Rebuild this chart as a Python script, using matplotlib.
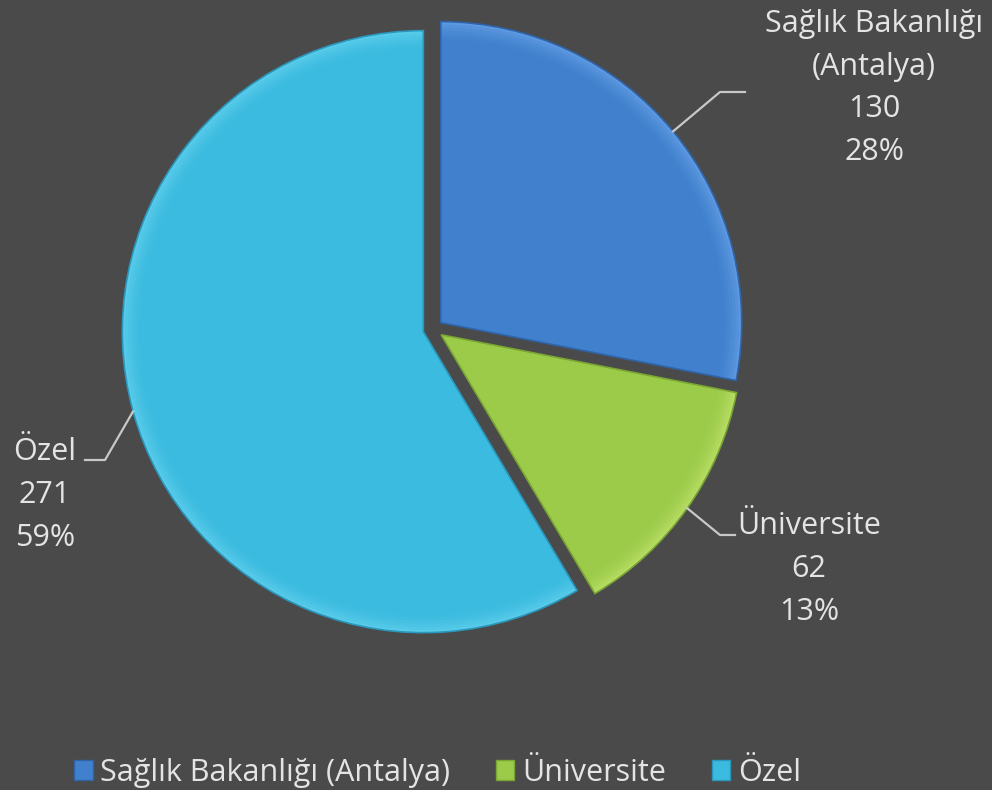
import numpy as np
import matplotlib.pyplot as plt
from matplotlib.patches import Patch, Wedge

plt.rcParams['font.family'] = ['Open Sans', 'DejaVu Sans']

labels = ['Sağlık Bakanlığı (Antalya)', 'Üniversite', 'Özel']
label_lines = ['Sağlık Bakanlığı\n(Antalya)', 'Üniversite', 'Özel']
values = [130, 62, 271]
colors = ['#4080cc', '#9ccb4a', '#3abbdf']
light = ['#72aaf0', '#c8e874', '#6ed6f2']
dark = ['#2f64a8', '#7aa634', '#2a98bc']

fig = plt.figure(figsize=(9.92, 7.9), dpi=100)
fig.patch.set_facecolor('#4a4a4a')
ax = fig.add_axes([0, 0, 1, 1])

cx, cy, r = 433, 461, 301
gap = 10
wedges, _ = ax.pie(values, colors=colors, startangle=90, counterclock=False,
                   radius=r, center=(cx, cy), explode=[gap, gap, gap],
                   wedgeprops=dict(linewidth=0), frame=True)

# soft bevel: darker outline, lighter rim
for w, lc_, dc_ in zip(wedges, light, dark):
    x0, y0 = w.center
    for k, a in enumerate([0.6, 0.45, 0.32, 0.22, 0.13, 0.06]):
        ax.add_patch(Wedge((x0, y0), w.r - k * 3, w.theta1, w.theta2, width=3,
                           facecolor=lc_, edgecolor='none', alpha=a))
    ax.add_patch(Wedge((x0, y0), w.r, w.theta1, w.theta2, facecolor='none',
                       edgecolor=dc_, linewidth=1.2))

ax.set_xlim(0, 992)
ax.set_ylim(0, 790)
ax.set_aspect('auto')
ax.axis('off')

total = sum(values)
pct = [round(v / total * 100) for v in values]

# label layout: text centre, elbow point, line end
layout = [((874, 702), (720, 698), (745, 698)),
          ((809, 221), (720, 255), (735, 255)),
          ((45, 295), (105, 330), (85, 330))]
lc = '#c8c8c8'
tc = '#e4e4e4'
fs = 22

for i, w in enumerate(wedges):
    ang = np.deg2rad((w.theta1 + w.theta2) / 2)
    wx, wy = w.center
    px = wx + w.r * np.cos(ang)
    py = wy + w.r * np.sin(ang)
    (tx, ty), (ex, ey), (fx, fy) = layout[i]
    ax.plot([px, ex, fx], [py, ey, fy], color=lc, lw=1.6)
    ax.text(tx, ty, f'{label_lines[i]}\n{values[i]}\n{pct[i]}%', ha='center',
            va='center', color=tc, fontsize=fs, linespacing=1.55)

handles = [Patch(facecolor=c, edgecolor=d, linewidth=1) for c, d in zip(colors, dark)]
leg = fig.legend(handles, labels, loc='center', ncol=3, frameon=False,
                 bbox_to_anchor=(0.441, 0.022), fontsize=fs, handlelength=0.6,
                 handleheight=0.6, handletextpad=0.25, columnspacing=1.5)
for t in leg.get_texts():
    t.set_color(tc)

fig.savefig('out.png', dpi=100, facecolor=fig.get_facecolor())
